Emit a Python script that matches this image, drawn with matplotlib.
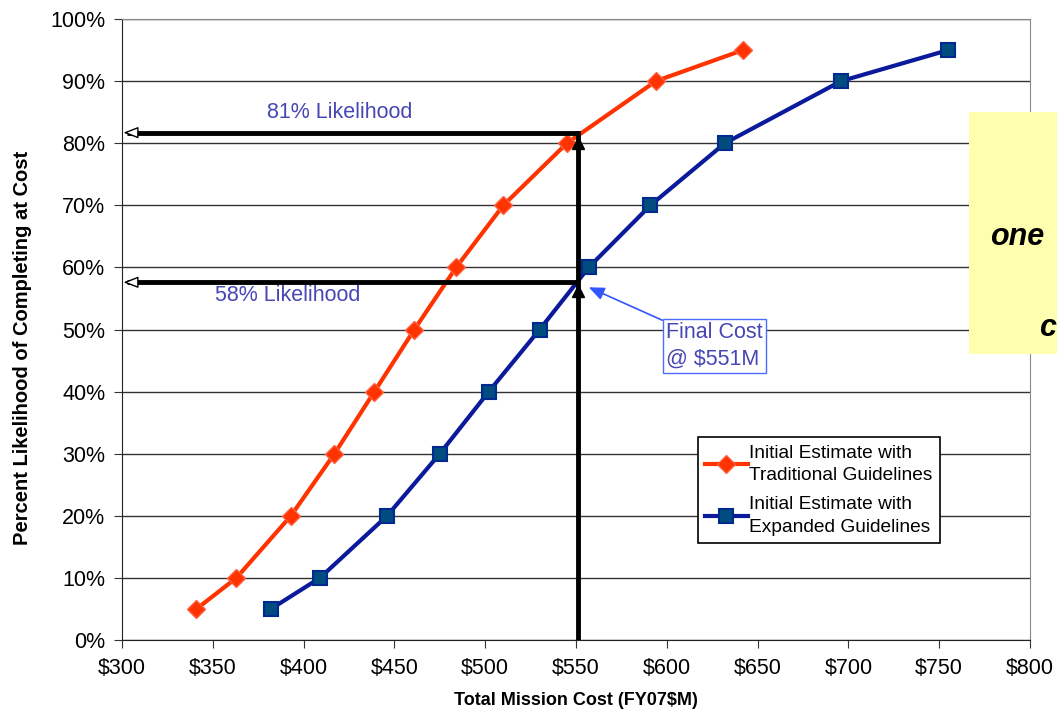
import matplotlib
matplotlib.use("Agg")
import matplotlib.pyplot as plt
from matplotlib.patches import Rectangle
from matplotlib.ticker import FuncFormatter

plt.rcParams["font.family"] = ["Liberation Sans", "DejaVu Sans"]

# cumulative cost curves (FY07 $M vs percent likelihood)
trad_cost = [341, 363, 393, 417, 439, 461, 484, 510, 545, 594, 642]
trad_pct = [5, 10, 20, 30, 40, 50, 60, 70, 80, 90, 95]
exp_cost = [382, 409, 446, 475, 502, 530, 557, 591, 632, 696, 755]
exp_pct = [5, 10, 20, 30, 40, 50, 60, 70, 80, 90, 95]

FINAL_COST = 551
LIKE_TRAD = 81.7
LIKE_EXP = 57.6

RED = "#ff3300"
NAVY = "#0a1a9a"
SQFILL = "#004c80"
LABEL = "#4646b4"

fig = plt.figure(figsize=(10.57, 7.15), dpi=100)
ax = fig.add_axes([122 / 1057, 1 - 640 / 715, 908 / 1057, 621 / 715])

ax.plot(trad_cost, trad_pct, color=RED, lw=3, marker="D", ms=9,
        mfc=RED, mec="#ff6040", zorder=4,
        label="Initial Estimate with\nTraditional Guidelines")
ax.plot(exp_cost, exp_pct, color=NAVY, lw=3, marker="s", ms=10,
        mfc=SQFILL, mec="#002a90", mew=1.5, zorder=4,
        label="Initial Estimate with\nExpanded Guidelines")

ax.set_xlim(300, 800)
ax.set_ylim(0, 100)
ax.set_xticks(range(300, 801, 50))
ax.set_yticks(range(0, 101, 10))
ax.xaxis.set_major_formatter(FuncFormatter(lambda v, p: f"${v:.0f}"))
ax.yaxis.set_major_formatter(FuncFormatter(lambda v, p: f"{v:.0f}%"))
ax.tick_params(labelsize=15.5, length=6, direction="out", color="#333333")
ax.tick_params(axis="x", pad=7)
ax.tick_params(axis="y", pad=6)
ax.grid(axis="y", color="#333333", lw=1)
ax.set_axisbelow(True)
for s in ("top", "right"):
    ax.spines[s].set_color("#888888")
for s in ("left", "bottom"):
    ax.spines[s].set_color("#222222")

ax.set_xlabel("Total Mission Cost (FY07$M)", fontsize=13, fontweight="bold", labelpad=9)
ax.set_ylabel("Percent Likelihood of Completing at Cost", fontsize=14.5,
              fontweight="bold")
ax.yaxis.set_label_coords(-0.099, 0.47)

# final-cost guide lines and arrows
ax.plot([FINAL_COST, FINAL_COST], [0, LIKE_TRAD], color="black", lw=3.5, zorder=5)
for yv in (LIKE_TRAD, LIKE_EXP):
    ax.plot([302.5, FINAL_COST], [yv, yv], color="black", lw=3.5, zorder=5,
            solid_capstyle="butt")
    ax.annotate("", xy=(300.8, yv), xytext=(307, yv),
                arrowprops=dict(arrowstyle="-|>,head_length=0.9,head_width=0.35",
                                lw=1, color="black", fc="white",
                                shrinkA=0, shrinkB=0), zorder=6)
ax.plot([FINAL_COST, FINAL_COST], [LIKE_TRAD - 1.6, LIKE_EXP - 1.4], ls="none",
        marker="^", ms=9, color="black", zorder=6)

ax.text(420, 85.0, "81% Likelihood", color=LABEL, fontsize=15.5, ha="center", va="center")
ax.text(391, 55.5, "58% Likelihood", color=LABEL, fontsize=15.5, ha="center", va="center")

ax.annotate("Final Cost\n@ $551M", xy=(557, 56.8), xytext=(599.5, 47.4),
            color=LABEL, fontsize=15.5, ha="left", va="center", linespacing=1.35,
            bbox=dict(boxstyle="square,pad=0.15", fc="white", ec="#4a6cff", lw=1),
            arrowprops=dict(arrowstyle="-|>,head_length=0.6,head_width=0.25",
                            color="#3355ff", lw=1.2, shrinkA=0, shrinkB=0,
                            relpos=(0, 1)), zorder=7)

leg = ax.legend(loc="upper left", bbox_to_anchor=(0.634, 0.327), fontsize=13.8,
                frameon=True, fancybox=False, edgecolor="black", framealpha=1,
                handlelength=2.2, borderpad=0.4, labelspacing=0.6,
                handletextpad=0.1, borderaxespad=0)
leg.get_frame().set_linewidth(1.2)
for t in leg.get_texts():
    t.set_linespacing(1.45)

# yellow call-out box, cut off by the right edge
fig.patches.append(Rectangle((969 / 1057, 1 - 354 / 715), 0.2, 242 / 715,
                             transform=fig.transFigure, fc="#ffffb0", ec="none",
                             zorder=10))
fig.text(990 / 1057, 1 - 237 / 715, "one", fontsize=22, fontweight="bold",
         fontstyle="italic", va="center", ha="left", zorder=11)
fig.text(1056 / 1057, 1 - 328 / 715, "c", fontsize=22, fontweight="bold",
         fontstyle="italic", va="center", ha="right", zorder=11)

fig.savefig("out.png", dpi=100)
